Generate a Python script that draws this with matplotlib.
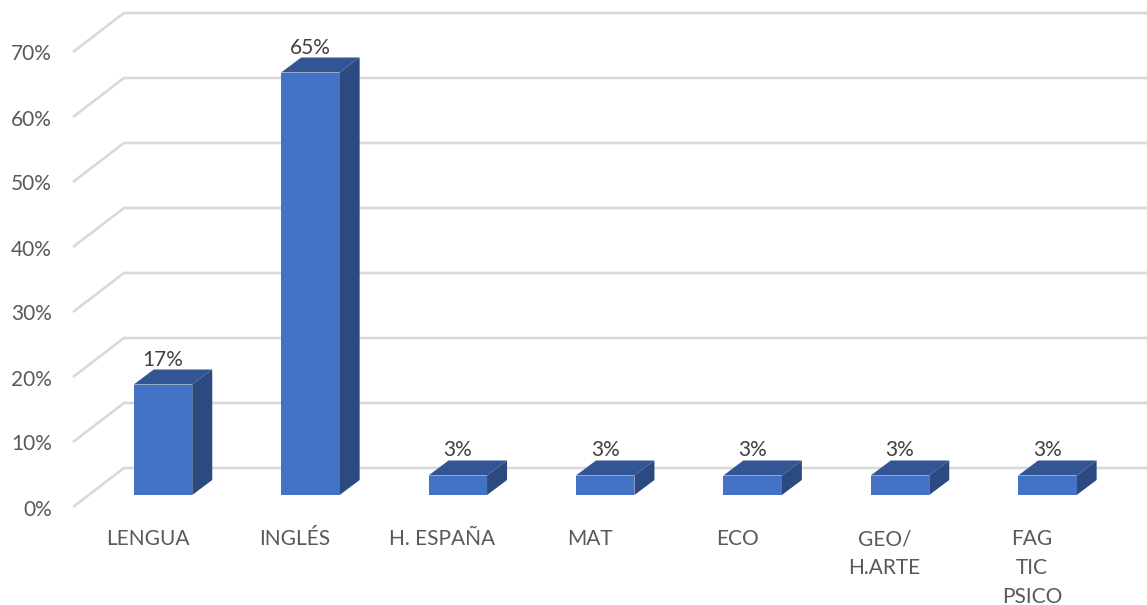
import matplotlib
matplotlib.use("Agg")
import matplotlib.pyplot as plt
from matplotlib.patches import Polygon, Rectangle

plt.rcParams['font.family'] = ['Lato', 'DejaVu Sans']

categories = ['LENGUA', 'INGLÉS', 'H. ESPAÑA', 'MAT', 'ECO', 'GEO/\nH.ARTE', 'FAG\nTIC\nPSICO']
values = [17, 65, 3, 3, 3, 3, 3]
y_ticks = [0, 10, 20, 30, 40, 50, 60, 70]

W, H = 1147, 605
PX_X = 147.4      # pixels per category
PX_Y = 6.5        # pixels per percentage point
X0, Y0 = 163, 495 # pixel of category 0 / value 0 at the bar front

fig = plt.figure(figsize=(W / 100, H / 100), dpi=100)
ax = fig.add_axes([0, 0, 1, 1])
ax.set_xlim(-X0 / PX_X, (W - X0) / PX_X)
ax.set_ylim((Y0 - H) / PX_Y, Y0 / PX_Y)
ax.axis('off')


def dx(p):
    return p / PX_X


def dy(p):
    return p / PX_Y


bar_w = dx(58.5)
depth_x, depth_y = dx(20), dy(15)
floor_back = dy(27)    # back wall sits above the bar front baseline
floor_front = dy(-12)  # front edge of the floor sits below it
grid_left_back = (124 - X0) / PX_X
grid_left_front = (73 - X0) / PX_X
grid_right = (W - X0) / PX_X
GRID = '#D9D9D9'
FS = 15

for t in y_ticks:
    yb = t + floor_back
    yf = t + floor_front
    ax.plot([grid_left_front, grid_left_back, grid_right], [yf, yb, yb],
            color=GRID, lw=1.9, solid_joinstyle='miter', solid_capstyle='butt', zorder=1)
    ax.text((52 - X0) / PX_X, yf + dy(-8.5), f'{t}%', ha='right', va='baseline',
            fontsize=FS, color='#595959', zorder=5)

for i, (cat, v) in enumerate(zip(categories, values)):
    l = i - bar_w / 2
    r = i + bar_w / 2
    ax.add_patch(Polygon([(l, v), (r, v), (r + depth_x, v + depth_y), (l + depth_x, v + depth_y)],
                         closed=True, fc='#335593', ec='none', zorder=3))
    ax.add_patch(Polygon([(r, 0), (r + depth_x, depth_y), (r + depth_x, v + depth_y), (r, v)],
                         closed=True, fc='#2A4A80', ec='none', zorder=3))
    ax.add_patch(Rectangle((l, 0), bar_w, v, fc='#4472C4', ec='none', zorder=4))
    ax.text(i, v + depth_y + dy(4), f'{v}%', ha='center', va='baseline',
            fontsize=FS, color='#404040', zorder=5)
    for j, line in enumerate(cat.split('\n')):
        ax.text(i - dx(15.5), dy(-50 - 29 * j), line, ha='center', va='baseline',
                fontsize=FS, color='#595959', zorder=5)

fig.savefig('out.png', dpi=100)
